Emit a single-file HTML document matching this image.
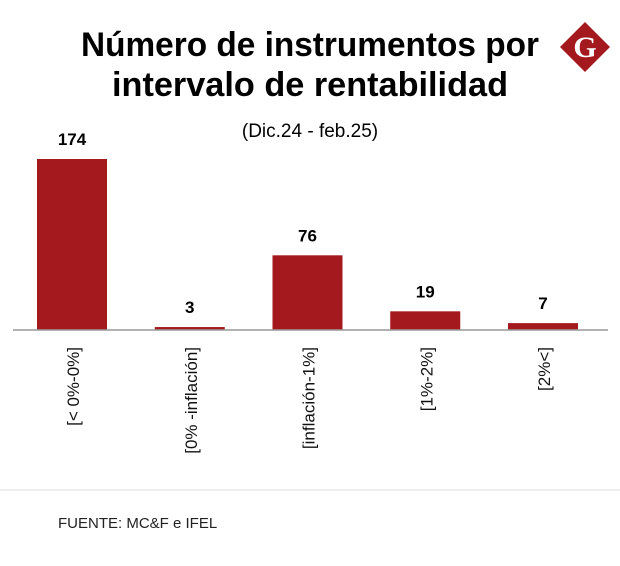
<!DOCTYPE html>
<html><head><meta charset="utf-8">
<style>
body{margin:0;background:#fff;width:620px;height:561px;overflow:hidden;font-family:"Liberation Sans",sans-serif;}
</style></head>
<body>
<svg width="620" height="561">
<text x="310" y="56" text-anchor="middle" font-family="Liberation Sans Narrow, Liberation Sans, sans-serif" font-weight="bold" font-size="34" textLength="458" lengthAdjust="spacingAndGlyphs">Número de instrumentos por</text>
<text x="310" y="96" text-anchor="middle" font-family="Liberation Sans Narrow, Liberation Sans, sans-serif" font-weight="bold" font-size="34" textLength="396" lengthAdjust="spacingAndGlyphs">intervalo de rentabilidad</text>
<text x="310" y="137" text-anchor="middle" font-size="19" font-family="Liberation Sans Narrow, Liberation Sans, sans-serif">(Dic.24 - feb.25)</text>
<g>
<polygon points="585,22 610,47 585,72 560,47" fill="#a3191e"/>
<text x="585" y="57" text-anchor="middle" fill="#fff" font-family="Liberation Serif,serif" font-weight="bold" font-size="30">G</text>
</g>
<g id="bars"></g>
<line x1="13" y1="330" x2="608" y2="330" stroke="#999" stroke-width="1.5"/>
<line x1="0" y1="490" x2="620" y2="490" stroke="#ddd" stroke-width="1"/>
<text x="58" y="528" font-size="15" fill="#222">FUENTE: MC&amp;F e IFEL</text>
</svg>
<script>
const categories=["[< 0%-0%]","[0% -inflación]","[inflación-1%]","[1%-2%]","[2%<]"];
const values=[174,3,76,19,7];
const ns="http://www.w3.org/2000/svg";
const g=document.getElementById('bars');
const base=330, scale=171/174;
function xPos(i){return 37+i*117.75;}
function yPos(v){return base-v*scale;}
categories.forEach((c,i)=>{
  const x=xPos(i), y=yPos(values[i]);
  const r=document.createElementNS(ns,'rect');
  
  
  r.setAttribute('x',x);r.setAttribute('y',y);r.setAttribute('width',70);r.setAttribute('height',base-y);r.setAttribute('fill','#a3191e');
  g.appendChild(r);
  const t=document.createElementNS(ns,'text');
  
  
  t.setAttribute('x',x+35);t.setAttribute('y',y-14);t.setAttribute('text-anchor','middle');
  t.setAttribute('font-weight','bold');t.setAttribute('font-size','17');
  t.textContent=values[i];g.appendChild(t);
  const l=document.createElementNS(ns,'text');
  
  
  l.setAttribute('transform','translate('+(x+42)+',347) rotate(-90)');
  l.setAttribute('text-anchor','end');l.setAttribute('font-size','17');l.setAttribute('fill','#111');
  l.textContent=c;g.appendChild(l);
});
</script>
</body></html>
